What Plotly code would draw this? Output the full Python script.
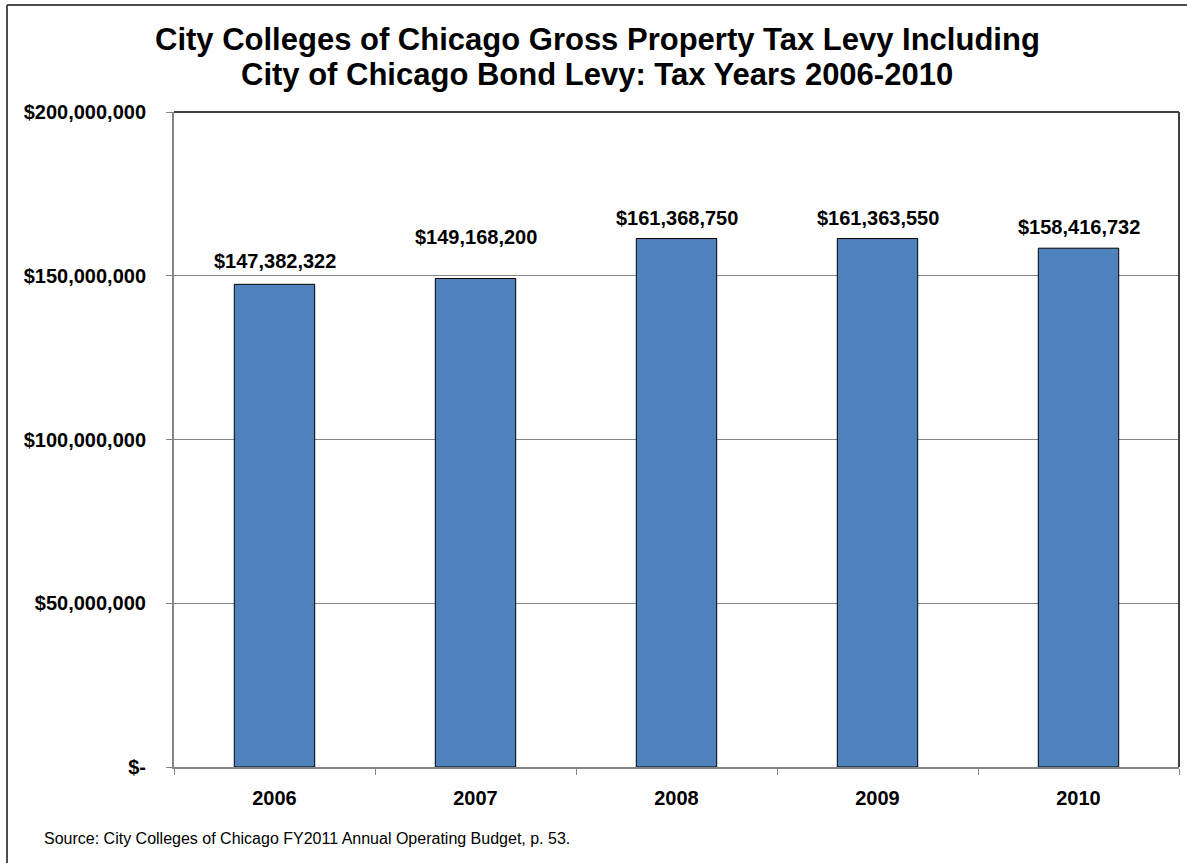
import plotly.graph_objects as go

years = ["2006", "2007", "2008", "2009", "2010"]
levy = [147382322, 149168200, 161368750, 161363550, 158416732]
levy_labels = ["$147,382,322", "$149,168,200", "$161,368,750", "$161,363,550", "$158,416,732"]
label_shift = [10, 28, 8, 8, 8]
y_tickvals = [0, 50000000, 100000000, 150000000, 200000000]
y_ticktext = ["$-", "$50,000,000", "$100,000,000", "$150,000,000", "$200,000,000"]

W, H = 1187, 863
L, R, T, B = 174, 8, 112, 96
pw, ph = W - L - R, H - T - B

FONT = "Arial, Liberation Sans, sans-serif"

fig = go.Figure()
fig.add_trace(go.Bar(
    x=years, y=levy,
    marker=dict(color="#4F81BD", line=dict(color="#000000", width=1)),
    hoverinfo="skip",
))

for i, (v, lab, s) in enumerate(zip(levy, levy_labels, label_shift)):
    fig.add_annotation(x=i, y=v, xref="x", yref="y", text="<b>" + lab + "</b>", showarrow=False,
                       yanchor="bottom", yshift=s,
                       font=dict(family=FONT, size=20, color="#000000"))

def px_x(px):
    return (px - L) / pw

def px_y(py):
    return (H - B - py) / ph

# outer border (left and top)
fig.add_shape(type="line", xref="paper", yref="paper",
              x0=px_x(7), x1=px_x(7), y0=px_y(5), y1=px_y(870),
              line=dict(color="#4d4d4d", width=2))
fig.add_shape(type="line", xref="paper", yref="paper",
              x0=px_x(7), x1=px_x(1200), y0=px_y(5), y1=px_y(5),
              line=dict(color="#4d4d4d", width=2))
# plot area top and right borders
fig.add_shape(type="line", xref="paper", yref="paper",
              x0=0, x1=1, y0=1, y1=1, line=dict(color="#000000", width=1.5))
fig.add_shape(type="line", xref="paper", yref="paper",
              x0=1, x1=1, y0=0, y1=1, line=dict(color="#404040", width=2))

# title lines
fig.add_annotation(xref="paper", yref="paper", x=px_x(597), y=px_y(40),
                   xanchor="center", yanchor="middle", showarrow=False,
                   text="<b>City Colleges of Chicago Gross Property Tax Levy Including</b>",
                   font=dict(family=FONT, size=31, color="#000000"))
fig.add_annotation(xref="paper", yref="paper", x=px_x(597), y=px_y(74),
                   xanchor="center", yanchor="middle", showarrow=False,
                   text="<b>City of Chicago Bond Levy: Tax Years 2006-2010</b>",
                   font=dict(family=FONT, size=31, color="#000000"))

fig.add_annotation(xref="paper", yref="paper", x=px_x(42), y=px_y(838),
                   xanchor="left", yanchor="middle", showarrow=False,
                   text="Source: City Colleges of Chicago FY2011 Annual Operating Budget, p. 53.",
                   font=dict(family=FONT, size=16, color="#000000"))

fig.update_layout(
    width=W, height=H,
    margin=dict(l=L, r=R, t=T, b=B, autoexpand=False),
    paper_bgcolor="white", plot_bgcolor="white",
    showlegend=False,
    bargap=0.6,
    xaxis=dict(
        type="category",
        range=[-0.5, len(years) - 0.5],
        showline=True, linecolor="#868686", linewidth=2,
        ticks="outside", ticklen=6, tickcolor="#868686", tickwidth=1,
        tickson="boundaries",
        tickfont=dict(family=FONT, size=20, color="#000000"),
        ticklabelstandoff=12,
        showgrid=False, fixedrange=True,
        tickprefix="<b>", ticksuffix="</b>",
    ),
    yaxis=dict(
        range=[0, 200000000],
        tickvals=y_tickvals,
        ticktext=["<b>" + t + "</b>" for t in y_ticktext],
        showline=True, linecolor="#868686", linewidth=2,
        ticks="outside", ticklen=6, tickcolor="#868686",
        showgrid=True, gridcolor="#868686", gridwidth=1,
        zeroline=False,
        tickfont=dict(family=FONT, size=20, color="#000000"),
        ticklabelstandoff=16,
        fixedrange=True,
    ),
)

fig.write_html("out.html")
